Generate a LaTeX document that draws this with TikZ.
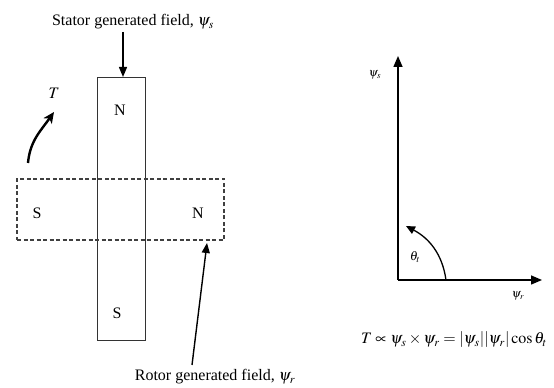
\documentclass[tikz,border=0pt]{standalone}
\usepackage{mathptmx}
\usepackage{fontspec}
\setmainfont{Liberation Serif}
\usetikzlibrary{arrows.meta}
\tikzset{
  lbl/.style={font=\fontsize{16}{18}\selectfont, inner sep=1pt},
  pole/.style={font=\fontsize{16}{18}\selectfont, inner sep=0pt},
  magnet/.style={draw=black!80, line width=1pt, minimum width=48pt, minimum height=263pt, inner sep=0pt},
  rotorbox/.style={draw=black!75, dashed, dash pattern=on 4pt off 2.5pt, line width=1.1pt, minimum width=207pt, minimum height=61pt, inner sep=0pt},
  arr/.style={line width=1.4pt, -{Triangle[length=10pt,width=8pt]}},
  axis/.style={line width=1.5pt, -{Triangle[length=11pt,width=9pt]}},
  thick arr/.style={line width=2.4pt, -{Stealth[length=11pt,width=10pt,inset=3pt]}},
}
\begin{document}
\begin{tikzpicture}[x=1pt,y=1pt]
\useasboundingbox (0,0) rectangle (554,388);
% magnets
\node[magnet] (stator) at (121,178.5) {};
\node[rotorbox] (rotor) at (120.5,178.5) {};
\node[pole] (sn) at (120,278) {N};
\node[pole] (ss) at (117,75) {S};
\node[pole] (rs) at (37,175) {S};
\node[pole] (rn) at (198,175) {N};
% labels
\node[lbl] (sl) at (133,366) {Stator generated field, $\psi_s$};
\node[lbl] (rl) at (215,11) {Rotor generated field, $\psi_r$};
\coordinate (sa) at (123,356);
\coordinate (sb) at (123,311);
\draw[arr] (sa) -- (sb);
\coordinate (ra) at (192,23);
\coordinate (rb) at (207,145);
\draw[arr] (ra) -- (rb);
% torque
\node[lbl] (T) at (54,295) {$T$};
\coordinate (ta) at (28,225);
\coordinate (tb) at (54,276);
\draw[thick arr] (ta) to[out=85,in=-125] (tb);
% vector diagram
\coordinate (o) at (398,108);
\coordinate (ys) at (398,332);
\coordinate (xr) at (542,108);
\draw[axis] (o) -- (ys);
\draw[axis] (o) -- (xr);
\node[font=\fontsize{12}{14}\selectfont] (psis) at (375,313) {$\psi_s$};
\node[font=\fontsize{12}{14}\selectfont] (psir) at (518,92) {$\psi_r$};
\coordinate (aa) at (446,108);
\coordinate (ab) at (406,162);
\draw[line width=1.3pt, -{Triangle[length=9pt,width=8pt]}] (aa) to[out=98,in=-28] (ab);
\node[font=\fontsize{13}{15}\selectfont] (th) at (415,131) {$\theta_t$};
\node[font=\fontsize{16}{18}\selectfont] (eq) at (454,48) {$T \propto \psi_s \times \psi_r = |\psi_s||\psi_r|\cos\theta_t$};
\end{tikzpicture}
\end{document}
